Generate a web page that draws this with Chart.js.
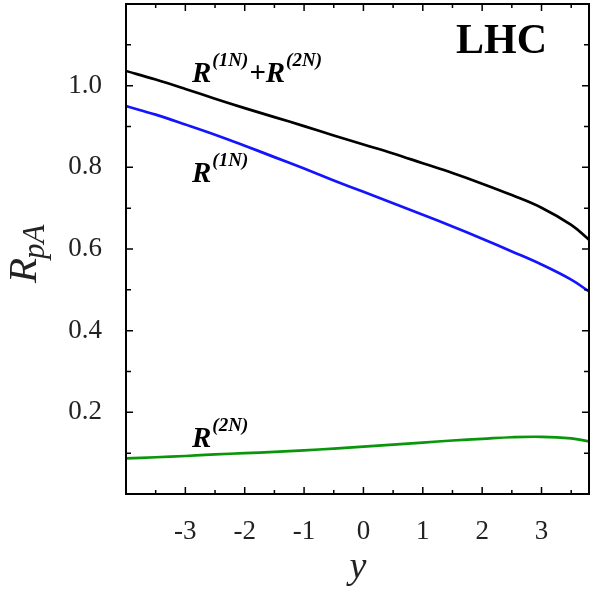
<!DOCTYPE html>
<html lang="en">
  <head>
    <meta charset="UTF-8" />
    <title>R_pA vs y (LHC)</title>
    <script src="https://cdn.jsdelivr.net/npm/chart.js"></script>
    <style>
      html, body { margin: 0; padding: 0; background: #fff; }
      #wrap { width: 596px; height: 596px; }
    </style>
  </head>
  <body>
    <div id="wrap"><canvas id="rpaChart" width="596" height="596"></canvas></div>

    <script>
      // Data
      const rapidity = [-4, -3.5, -3, -2.5, -2, -1.5, -1, -0.5, 0, 0.5, 1, 1.5, 2, 2.5, 3, 3.5, 3.8];
      const rSum = [1.036, 1.015, 0.992, 0.968, 0.945, 0.923, 0.901, 0.878, 0.856, 0.834, 0.810, 0.786, 0.760, 0.732, 0.701, 0.659, 0.623];
      const r1N = [0.950, 0.929, 0.905, 0.880, 0.853, 0.825, 0.797, 0.768, 0.740, 0.712, 0.684, 0.655, 0.625, 0.594, 0.562, 0.525, 0.496];
      const r2N = [0.087, 0.090, 0.093, 0.097, 0.100, 0.103, 0.107, 0.111, 0.116, 0.121, 0.126, 0.131, 0.135, 0.139, 0.140, 0.136, 0.129];

      const xMajor = [-3, -2, -1, 0, 1, 2, 3];
      const xMinor = [-3.5, -2.5, -1.5, -0.5, 0.5, 1.5, 2.5, 3.5];
      const yMajor = [0.2, 0.4, 0.6, 0.8, 1.0];
      const yMinor = [0.1, 0.3, 0.5, 0.7, 0.9, 1.1];

      const serif = "'Liberation Serif', 'DejaVu Serif', serif";
      const toPoints = (ys) => rapidity.map((x, i) => ({ x, y: ys[i] }));

      // R with superscript, bold italic
      const drawRLabel = (ctx, x, y, parts) => {
        ctx.textBaseline = "alphabetic";
        ctx.textAlign = "left";
        let cx = x;
        parts.forEach((p) => {
          if (p.sup) {
            ctx.font = `italic bold 19px ${serif}`;
            ctx.fillText(p.text, cx + 1, y - 16);
            cx += ctx.measureText(p.text).width + 2;
          } else {
            ctx.font = `italic bold 29px ${serif}`;
            ctx.fillText(p.text, cx, y);
            cx += ctx.measureText(p.text).width;
          }
        });
      };

      const framePlugin = {
        id: "frame",
        afterDraw(chart) {
          const { ctx, chartArea: a, scales } = chart;
          const sx = scales.x, sy = scales.y;
          ctx.save();
          ctx.strokeStyle = "#000";
          ctx.lineWidth = 2;
          ctx.strokeRect(a.left, a.top, a.right - a.left, a.bottom - a.top);

          const tick = (vals, len, isX) => {
            ctx.beginPath();
            vals.forEach((v) => {
              if (isX) {
                const px = sx.getPixelForValue(v);
                ctx.moveTo(px, a.bottom); ctx.lineTo(px, a.bottom - len);
                ctx.moveTo(px, a.top); ctx.lineTo(px, a.top + len);
              } else {
                const py = sy.getPixelForValue(v);
                ctx.moveTo(a.left, py); ctx.lineTo(a.left + len, py);
                ctx.moveTo(a.right, py); ctx.lineTo(a.right - len, py);
              }
            });
            ctx.stroke();
          };
          ctx.lineWidth = 1.5;
          tick(xMajor, 7, true);
          tick(xMinor, 4, true);
          tick(yMajor, 7, false);
          tick(yMinor, 5, false);

          // texts
          ctx.fillStyle = "#000";
          ctx.font = `bold 42px ${serif}`;
          ctx.textAlign = "left";
          ctx.textBaseline = "alphabetic";
          ctx.fillText("LHC", 456, 53);

          drawRLabel(ctx, 192, 82, [
            { text: "R" }, { text: "(1N)", sup: true },
            { text: "+R" }, { text: "(2N)", sup: true },
          ]);
          drawRLabel(ctx, 192, 182, [{ text: "R" }, { text: "(1N)", sup: true }]);
          drawRLabel(ctx, 192, 447, [{ text: "R" }, { text: "(2N)", sup: true }]);

          // x axis title
          ctx.fillStyle = "#222";
          ctx.font = `italic 38px ${serif}`;
          ctx.textAlign = "center";
          ctx.fillText("y", 358, 578);

          // y axis title: R_pA rotated
          ctx.translate(36, 283);
          ctx.rotate(-Math.PI / 2);
          ctx.textAlign = "left";
          ctx.font = `italic 41px ${serif}`;
          ctx.fillText("R", 0, 0);
          const w = ctx.measureText("R").width;
          ctx.font = `italic 31px ${serif}`;
          ctx.fillText("pA", w - 1, 8);
          ctx.restore();
        },
      };

      const lineSet = (label, ys, color) => ({
        label,
        data: toPoints(ys),
        borderColor: color,
        backgroundColor: color,
        borderWidth: 2.7,
        pointRadius: 0,
        fill: false,
        tension: 0.4,
      });

      new Chart(document.getElementById("rpaChart"), {
        type: "line",
        data: {
          datasets: [
            lineSet("R(1N)+R(2N)", rSum, "#000000"),
            lineSet("R(1N)", r1N, "#1414ff"),
            lineSet("R(2N)", r2N, "#0a960a"),
          ],
        },
        options: {
          responsive: false,
          animation: false,
          devicePixelRatio: 1,
          layout: { padding: { top: 4, right: 7, left: 0, bottom: 0 } },
          plugins: { legend: { display: false }, tooltip: { enabled: false } },
          scales: {
            x: {
              type: "linear",
              min: -4,
              max: 3.8,
              grid: { display: false },
              border: { display: false },
              afterBuildTicks: (s) => { s.ticks = xMajor.map((v) => ({ value: v })); },
              afterFit: (s) => { s.height = 102; s.paddingLeft = 0; s.paddingRight = 0; },
              ticks: {
                color: "#222",
                font: { family: serif, size: 27 },
                padding: 14,
                maxRotation: 0,
                callback: (v) => String(v),
              },
            },
            y: {
              type: "linear",
              min: 0,
              max: 1.2,
              grid: { display: false },
              border: { display: false },
              afterBuildTicks: (s) => { s.ticks = yMajor.map((v) => ({ value: v })); },
              afterFit: (s) => { s.width = 126; s.paddingTop = 0; s.paddingBottom = 0; },
              ticks: {
                color: "#222",
                font: { family: serif, size: 27 },
                padding: 16,
                callback: (v) => Number(v).toFixed(1),
              },
            },
          },
        },
        plugins: [framePlugin],
      });
    </script>
  </body>
</html>
